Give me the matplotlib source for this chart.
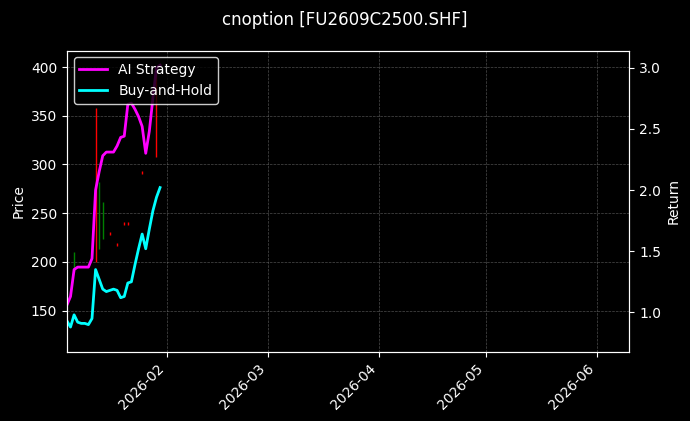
import matplotlib
matplotlib.use("Agg")
import matplotlib.pyplot as plt
import matplotlib.dates as mdates
import numpy as np
import pandas as pd

dates = pd.date_range("2026-01-03", "2026-01-30", freq="D")
hold = [1.04, 0.93, 0.88, 0.98, 0.92, 0.91, 0.91, 0.90, 0.95, 1.35, 1.27, 1.19, 1.17, 1.18,
        1.19, 1.18, 1.12, 1.13, 1.24, 1.25, 1.39, 1.52, 1.64, 1.52, 1.68, 1.83, 1.94, 2.02]
strategy = [1.00, 1.06, 1.13, 1.35, 1.37, 1.37, 1.37, 1.37, 1.44, 2.00, 2.15, 2.28, 2.31, 2.31,
            2.31, 2.36, 2.43, 2.44, 2.70, 2.71, 2.66, 2.60, 2.52, 2.30, 2.48, 2.75, 3.00, 3.02]

c_dates = pd.to_datetime(["2026-01-06", "2026-01-12", "2026-01-13", "2026-01-14", "2026-01-16",
                          "2026-01-18", "2026-01-20", "2026-01-21", "2026-01-25", "2026-01-29"])
c_open = [192, 358, 215, 225, 230, 218, 240, 240, 292, 400]
c_close = [208, 200, 280, 262, 229, 217, 239, 239, 291, 310]
c_high = [210, 358, 282, 262, 231, 219, 241, 241, 293, 400]
c_low = [190, 200, 213, 224, 228, 216, 238, 238, 290, 308]

fig, ax = plt.subplots(figsize=(6.9, 4.21), dpi=100)
fig.patch.set_facecolor("black")
ax.set_facecolor("black")
for d, o, c, h, l in zip(c_dates, c_open, c_close, c_high, c_low):
    col = "green" if c >= o else "red"
    ax.vlines(d, l, h, color=col, linewidth=1)
ax.set_ylim(108, 417)
ax.set_ylabel("Price", color="white")
ax.grid(True, color="gray", linestyle="--", linewidth=0.5, alpha=0.6)

ax2 = ax.twinx()
ax2.plot(dates, strategy, color="magenta", linewidth=2, label="AI Strategy")
ax2.plot(dates, hold, color="cyan", linewidth=2, label="Buy-and-Hold")
ax2.set_ylim(0.68, 3.14)
ax2.set_ylabel("Return", color="white")
ax.set_xlim(pd.Timestamp("2026-01-04 00:00"), pd.Timestamp("2026-06-10"))
ax.xaxis.set_major_locator(mdates.MonthLocator())
ax.xaxis.set_major_formatter(mdates.DateFormatter("%Y-%m"))
plt.setp(ax.get_xticklabels(), rotation=45, ha="right")

for a in (ax, ax2):
    a.tick_params(colors="white")
    for s in a.spines.values():
        s.set_color("white")
leg = ax2.legend(loc="upper left", facecolor="black", edgecolor="white", labelcolor="white")
fig.suptitle("cnoption [FU2609C2500.SHF]", color="white", y=0.975)
fig.subplots_adjust(left=0.097, right=0.912, top=0.88, bottom=0.165)
fig.savefig("out.png", facecolor="black")
